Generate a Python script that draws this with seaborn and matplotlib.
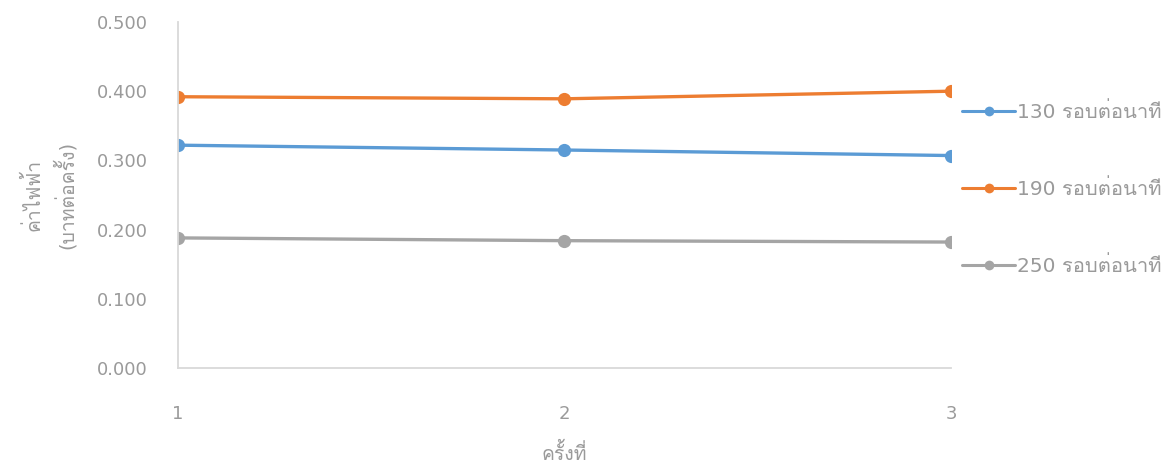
import matplotlib
matplotlib.use("Agg")
import matplotlib.pyplot as plt
from matplotlib import font_manager
from matplotlib.ft2font import FT2Font
from matplotlib.lines import Line2D
import seaborn as sns
import pandas as pd

# ---- data ----
rounds = [1, 2, 3]
series_names = ["130 รอบต่อนาที", "190 รอบต่อนาที", "250 รอบต่อนาที"]
vals_130 = [0.322, 0.315, 0.307]
vals_190 = [0.392, 0.389, 0.400]
vals_250 = [0.188, 0.184, 0.182]
y_ticks = [0.0, 0.1, 0.2, 0.3, 0.4, 0.5]
x_label = "ครั้งที่"
y_label = "ค่าไฟฟ้า\n(บาทต่อครั้ง)"

colors = ["#5B9BD5", "#ED7D31", "#A5A5A5"]
text_gray = "#9a9a9a"

# ---- find a font with Thai glyphs ----
thai_font = None
for f in font_manager.fontManager.ttflist:
    try:
        cm = FT2Font(f.fname).get_charmap()
        if 0x0E01 in cm and 0x0E35 in cm:
            thai_font = f.name
            break
    except Exception:
        pass

sns.set_theme(style="white")
fams = ["DejaVu Sans"] + ([thai_font] if thai_font else [])
plt.rcParams["font.family"] = fams

df = pd.DataFrame({
    "x": rounds * 3,
    "y": vals_130 + vals_190 + vals_250,
    "s": [series_names[0]] * 3 + [series_names[1]] * 3 + [series_names[2]] * 3,
})

fig = plt.figure(figsize=(11.73, 4.71), dpi=100)
ax = fig.add_axes([0.1517, 0.2187, 0.6590, 0.7346])

sns.lineplot(data=df, x="x", y="y", hue="s", hue_order=series_names,
             palette=colors, marker="o", markersize=9.5, markeredgewidth=0,
             linewidth=2.4, ax=ax, legend=False)

ax.set_xlim(1, 3)
ax.set_ylim(0, 0.5)
ax.set_xticks(rounds)
ax.set_xticklabels([str(r) for r in rounds])
ax.set_yticks(y_ticks)
ax.set_yticklabels([f"{v:.3f}" for v in y_ticks])
for sp in ["top", "right"]:
    ax.spines[sp].set_visible(False)
for sp in ["left", "bottom"]:
    ax.spines[sp].set_color("#d9d9d9")
    ax.spines[sp].set_linewidth(1.3)
ax.tick_params(axis="both", colors=text_gray, labelsize=13, length=0)
ax.tick_params(axis="y", pad=22)
ax.tick_params(axis="x", pad=27)
ax.set_xlabel(x_label, color=text_gray, fontsize=14, labelpad=14)
ax.set_ylabel(y_label, color=text_gray, fontsize=14, linespacing=1.5)
ax.yaxis.set_label_coords(-0.131, 0.5)
for lbl in ax.get_xticklabels() + ax.get_yticklabels():
    lbl.set_color(text_gray)

handles = [Line2D([0], [0], color=c, marker="o", markersize=7, markeredgewidth=0, linewidth=2.2)
           for c in colors]
leg = fig.legend(handles, series_names, loc="upper left",
                 bbox_to_anchor=(0.805, 0.822), frameon=False,
                 fontsize=14.5, labelspacing=2.85, handlelength=2.6,
                 handletextpad=0.1, labelcolor=text_gray)

fig.savefig("out.png", dpi=100)
